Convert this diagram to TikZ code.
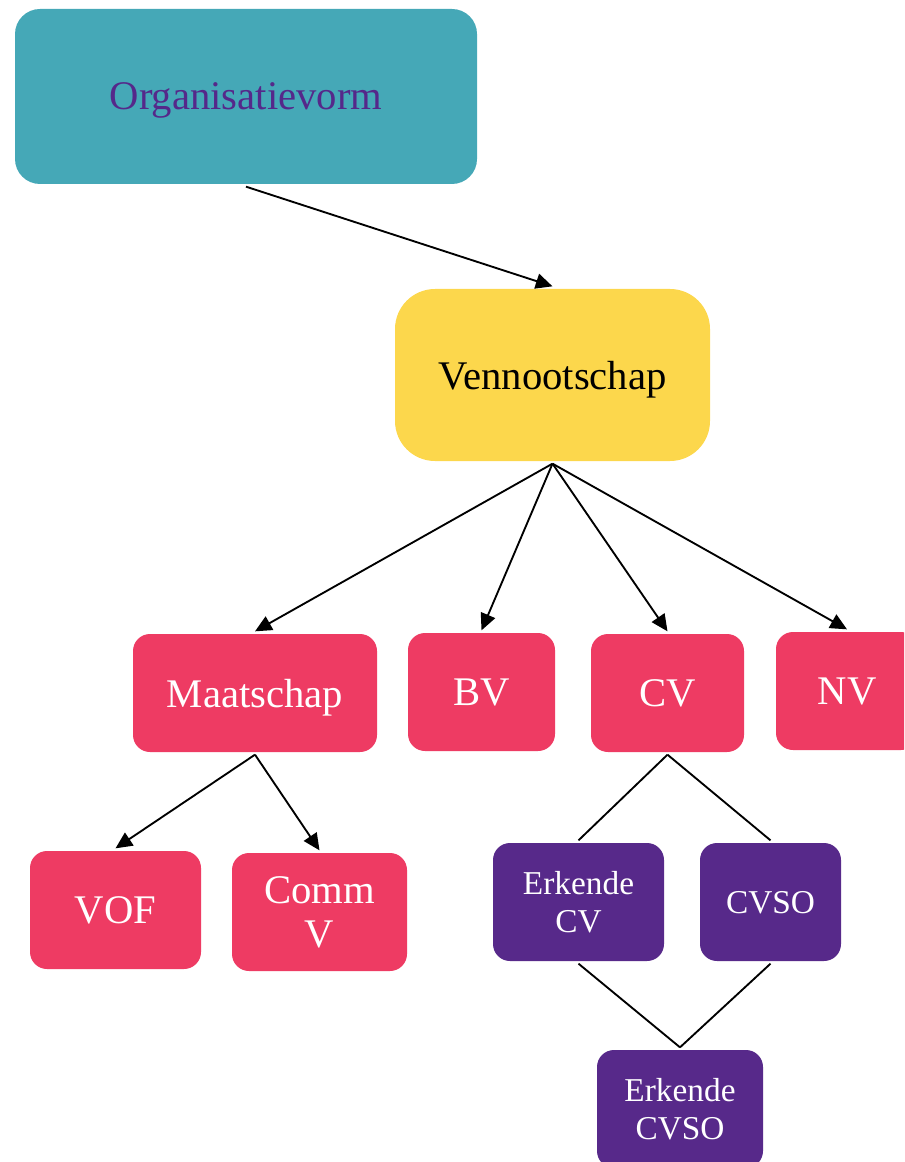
\documentclass[tikz,border=0pt]{standalone}
\usepackage{fontspec}
\setmainfont{Liberation Serif}
\usetikzlibrary{arrows.meta}
\definecolor{cTeal}{HTML}{45A8B7}
\definecolor{cYellow}{HTML}{FCD74C}
\definecolor{cRed}{HTML}{EE3B63}
\definecolor{cPurple}{HTML}{57298A}
\definecolor{cTextPurple}{HTML}{55288A}
\begin{document}
\begin{tikzpicture}[x=0.75pt,y=-0.75pt,
  base/.style={draw=none, inner sep=0pt, outer sep=2pt, align=center, text=white,
    text depth=0pt, font=\fontsize{30.5}{33}\selectfont},
  redbox/.style={base, fill=cRed, rounded corners=12.75pt, minimum height=88.5pt},
  purplebox/.style={base, fill=cPurple, rounded corners=12.75pt, minimum height=88.5pt,
    font=\fontsize{25}{28}\selectfont},
  arr/.style={draw=black, line width=1.4pt, -{Triangle[length=12.5pt,width=11.5pt]}},
  ln/.style={draw=black, line width=1.4pt}]
\clip (0,0) rectangle (904,1162);
\node[base, fill=cTeal, text=cTextPurple, rounded corners=18.75pt,
  minimum width=346.5pt, minimum height=131.25pt] (org) at (246,96.5) {Organisatievorm};
\node[base, fill=cYellow, text=black, rounded corners=30pt,
  minimum width=236.25pt, minimum height=129pt] (ven) at (552.5,375) {Vennootschap};
\node[redbox, minimum width=183pt] (maat) at (255,693) {Maatschap};
\node[redbox, minimum width=110.25pt] (bv) at (481.5,692) {BV};
\node[redbox, minimum width=114.75pt] (cv) at (667.5,693) {CV};
\node[redbox, minimum width=106.5pt] (nv) at (847,691) {NV};
\node[redbox, minimum width=128.25pt] (vof) at (115.5,910) {VOF};
\node[redbox, minimum width=131.25pt] (commv) at (319.5,912) {Comm\\V};
\node[purplebox, minimum width=128.25pt] (ecv) at (578.5,902) {Erkende\\CV};
\node[purplebox, minimum width=105.75pt] (cvso) at (770.5,902) {CVSO};
\node[purplebox, minimum width=124.5pt] (ecvso) at (680,1109) {Erkende\\CVSO};
\draw[arr] (org.south) -- (ven.north);
\draw[arr] (ven.south) -- (maat.north);
\draw[arr] (ven.south) -- (bv.north);
\draw[arr] (ven.south) -- (cv.north);
\draw[arr] (ven.south) -- (nv.north);
\draw[arr] (maat.south) -- (vof.north);
\draw[arr] (maat.south) -- (commv.north);
\draw[ln] (cv.south) -- (ecv.north);
\draw[ln] (cv.south) -- (cvso.north);
\draw[ln] (ecv.south) -- (ecvso.north);
\draw[ln] (cvso.south) -- (ecvso.north);
\end{tikzpicture}
\end{document}
